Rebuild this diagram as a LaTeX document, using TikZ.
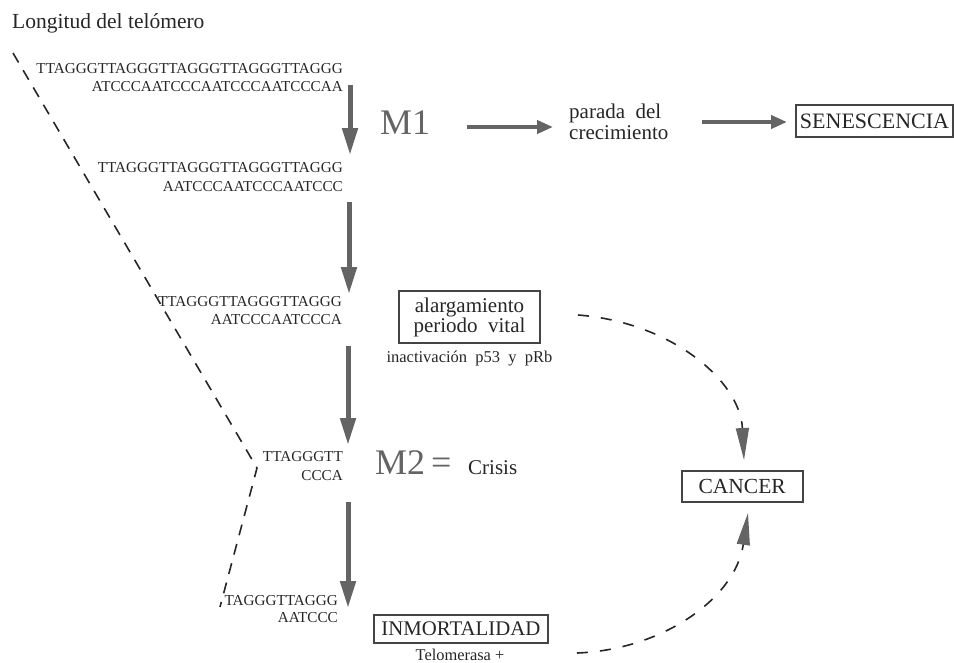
\documentclass[tikz,border=0pt]{standalone}
\usepackage{fontspec}
\setmainfont{Liberation Serif}
\usetikzlibrary{arrows.meta}
\definecolor{arrgray}{HTML}{646464}
\definecolor{ink}{HTML}{262626}
\definecolor{boxline}{HTML}{444444}
\begin{document}
\begin{tikzpicture}[x=1pt,y=-1pt,
  dna/.style={font=\fontsize{15.2}{17}\selectfont, text=ink, inner sep=0pt, anchor=base east},
  txt/.style={text=ink, inner sep=0pt},
  bigarrow/.style={draw=arrgray, line width=5pt, -{Triangle[length=27pt,width=15pt]}},
  harrow/.style={draw=arrgray, line width=4.5pt, -{Triangle[length=16pt,width=13pt]}},
  boxed/.style={draw=boxline, line width=2pt, text=ink, inner sep=0pt, align=center},
  dashline/.style={draw=ink, line width=1.6pt, dash pattern=on 11pt off 9pt},
  dasharc/.style={draw=ink, line width=1.6pt, dash pattern=on 11pt off 12pt, -{Triangle[length=32pt,width=13pt,color=arrgray]}},
  mlabel/.style={text=arrgray, inner sep=0pt, anchor=base west, font=\fontsize{36}{40}\selectfont}
]
\useasboundingbox (0,0) rectangle (954,662);

% title
\node[txt, anchor=base west, font=\fontsize{21.5}{24}\selectfont] (title) at (12,28) {Longitud del telómero};

% DNA sequences
\node[dna] (s1a) at (343,73.5) {TTAGGGTTAGGGTTAGGGTTAGGGTTAGGG};
\node[dna] (s1b) at (343,91.5) {ATCCCAATCCCAATCCCAATCCCAA};
\node[dna] (s2a) at (343,172) {TTAGGGTTAGGGTTAGGGTTAGGG};
\node[dna] (s2b) at (343,191.5) {AATCCCAATCCCAATCCC};
\node[dna] (s3a) at (342,306) {TTAGGGTTAGGGTTAGGG};
\node[dna] (s3b) at (342,324) {AATCCCAATCCCA};
\node[dna] (s4a) at (343,461) {TTAGGGTT};
\node[dna] (s4b) at (343,480) {CCCA};
\node[dna] (s5a) at (338,605) {TAGGGTTAGGG};
\node[dna] (s5b) at (338,622.5) {AATCCC};

% vertical arrows
\coordinate (a1s) at (350,85);  \coordinate (a1e) at (350,155);
\coordinate (a2s) at (349,202); \coordinate (a2e) at (349,294);
\coordinate (a3s) at (348,346); \coordinate (a3e) at (348,445);
\coordinate (a4s) at (348,502); \coordinate (a4e) at (348,608);
\draw[bigarrow] (a1s) -- (a1e);
\draw[bigarrow] (a2s) -- (a2e);
\draw[bigarrow] (a3s) -- (a3e);
\draw[bigarrow] (a4s) -- (a4e);

% M1 branch
\node[mlabel] (m1) at (380,134.3) {M1};
\node[txt, anchor=west, align=left, font=\fontsize{21}{21}\selectfont] (parada) at (569,122) {parada\ \ del\\crecimiento};
\node[boxed, minimum width=157pt, minimum height=32pt, font=\fontsize{22}{24}\selectfont] (sen) at (874.5,121) {SENESCENCIA};
\coordinate (h1s) at (467,127); \coordinate (h1e) at (553,127);
\coordinate (h2s) at (702,122); \coordinate (h2e) at (787,122);
\draw[harrow] (h1s) -- (h1e);
\draw[harrow] (h2s) -- (h2e);

% alargamiento
\node[boxed, minimum width=141pt, minimum height=52pt, font=\fontsize{21}{18.5}\selectfont] (alarg) at (469.5,317) {alargamiento\\periodo\ \ vital};
\node[txt, anchor=base, font=\fontsize{16.5}{18}\selectfont] (inact) at (469.5,362.7) {inactivación\ \ p53\ \ y\ \ pRb};

% M2
\node[mlabel] (m2) at (375,474) {M2};
\node[mlabel] (eq) at (431,474) {=};
\node[txt, anchor=base west, font=\fontsize{21}{24}\selectfont] (crisis) at (468,474) {Crisis};

% inmortalidad
\node[boxed, minimum width=173.7pt, minimum height=28.3pt, font=\fontsize{20.8}{24}\selectfont] (inmort) at (460.9,629.2) {INMORTALIDAD};
\node[txt, anchor=base, font=\fontsize{16.4}{18}\selectfont] (telo) at (460,660) {Telomerasa +};

% cancer
\node[boxed, minimum width=121pt, minimum height=31.3pt, font=\fontsize{21.5}{24}\selectfont] (cancer) at (742.2,486.7) {CANCER};

% telomere length dashed line
\coordinate (d0) at (13,53);
\coordinate (d1) at (257,468);
\coordinate (d2) at (220,607);
\draw[dashline] (d0) -- (d1) -- (d2);

% dashed arcs to cancer
\coordinate (c1s) at (578,315);
\coordinate (c1e) at (744,460);
\coordinate (c2s) at (577,653);
\coordinate (c2e) at (748,513);
\draw[dasharc] (c1s) .. controls (670,322) and (740,380) .. (c1e);
\draw[dasharc] (c2s) .. controls (660,650) and (735,600) .. (c2e);
\end{tikzpicture}
\end{document}
